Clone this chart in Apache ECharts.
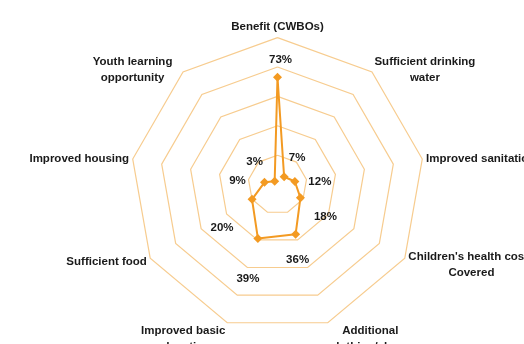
<!DOCTYPE html>
<html>
<head>
<meta charset="utf-8">
<script src="https://cdn.jsdelivr.net/npm/echarts@6/dist/echarts.min.js"></script>
<style>
  html, body { margin: 0; padding: 0; background: #ffffff; }
  #chart { width: 524px; height: 344px; }
</style>
</head>
<body>
<div id="chart"></div>
<script>
// ---- data (clockwise from top, as in the source) ----
const indicatorNames = [
  'Benefit (CWBOs)',
  'Sufficient drinking\nwater',
  'Improved sanitation',
  "Children's health costs\nCovered",
  'Additional\nclothing/shoes',
  'Improved basic\neducation',
  'Sufficient food',
  'Improved housing',
  'Youth learning\nopportunity'
];
const shareValues = [73, 7, 12, 18, 36, 39, 20, 9, 3];
const axisMax = 100;

// ---- layout / style (not data) ----
const labelOffsets = [
  [3, -17], [13, -19], [25, 0], [25, 19], [2, 25],
  [-10, 40], [-30, 29], [-27, -1], [-20, -19]
];
// extra downward shift (px) of each axis name, matching the source placement
const nameShift = [0, 0, 0, 5, 13, 13, 2, 0, 0];
// extra gap (px) between the outer ring and a name
const nameExtraGap = [0, 0, 0, 0, 0, 0, 0, 0, 8];
const orange = '#F39A22';
const gridColor = '#F7CC8F';
const textColor = '#1a1a1a';
const fontSize = 11.5;
const font = '"Liberation Sans", Arial, sans-serif';

// ECharts lays indicators out counter-clockwise; reorder so the reading is clockwise.
const n = indicatorNames.length;
const order = [0];
for (let i = n - 1; i >= 1; i--) order.push(i);
const radarNames = order.map(function (i) { return indicatorNames[i]; });
const radarValues = order.map(function (i) { return shareValues[i]; });

// rich styles so multi-line names are centred line by line
const measureCtx = document.createElement('canvas').getContext('2d');
measureCtx.font = 'bold ' + fontSize + 'px ' + font;
const rich = {};
indicatorNames.forEach(function (nm, i) {
  const w = Math.max.apply(null, nm.split('\n').map(function (l) { return measureCtx.measureText(l).width; }));
  rich['n' + i] = {
    width: Math.ceil(w) + 1, align: 'center', color: textColor,
    fontSize: fontSize, fontWeight: 'bold', fontFamily: font, lineHeight: 16,
    padding: [0, nameExtraGap[i], 0, 0]
  };
  rich['s' + i] = { height: nameShift[i] * 2, lineHeight: nameShift[i] * 2, fontSize: 1 };
});

const chart = echarts.init(document.getElementById('chart'), null, { renderer: 'canvas' });

const series = [{
  type: 'radar',
  silent: true,
  symbol: 'diamond',
  symbolSize: 9,
  lineStyle: { color: orange, width: 2 },
  itemStyle: { color: orange },
  data: [{ value: radarValues, name: 'share' }],
  z: 3
}];

labelOffsets.forEach(function (off, k) {
  series.push({
    type: 'radar',
    silent: true,
    symbol: 'circle',
    symbolSize: 1,
    lineStyle: { width: 0, opacity: 0 },
    itemStyle: { color: 'rgba(0,0,0,0)' },
    z: 4,
    data: [{
      value: radarValues,
      name: 'label' + k,
      label: {
        show: true,
        position: 'inside',
        offset: off,
        color: textColor,
        fontSize: fontSize,
        fontWeight: 'bold',
        fontFamily: font,
        formatter: function (p) {
          return order[p.dimensionIndex] === k ? shareValues[k] + '%' : '';
        }
      }
    }]
  });
});

chart.setOption({
  backgroundColor: '#ffffff',
  animation: false,
  radar: {
    center: [277.5, 184.6],
    radius: 147,
    startAngle: 90,
    shape: 'polygon',
    splitNumber: 5,
    indicator: radarNames.map(function (nm) { return { name: nm, max: axisMax, min: 0 }; }),
    axisName: {
      color: textColor,
      fontSize: fontSize,
      fontWeight: 'bold',
      fontFamily: font,
      lineHeight: 16,
      rich: rich,
      formatter: function (name) {
        const i = indicatorNames.indexOf(name);
        const lines = name.split('\n').map(function (l) { return '{n' + i + '|' + l + '}'; });
        if (nameShift[i] > 0) lines.unshift('{s' + i + '| }');
        return lines.join('\n');
      }
    },
    nameGap: 3,
    splitLine: { lineStyle: { color: gridColor, width: 1.2 } },
    splitArea: { show: false },
    axisLine: { show: false },
    axisTick: { show: false },
    axisLabel: { show: false }
  },
  series: series
});
</script>
</body>
</html>
